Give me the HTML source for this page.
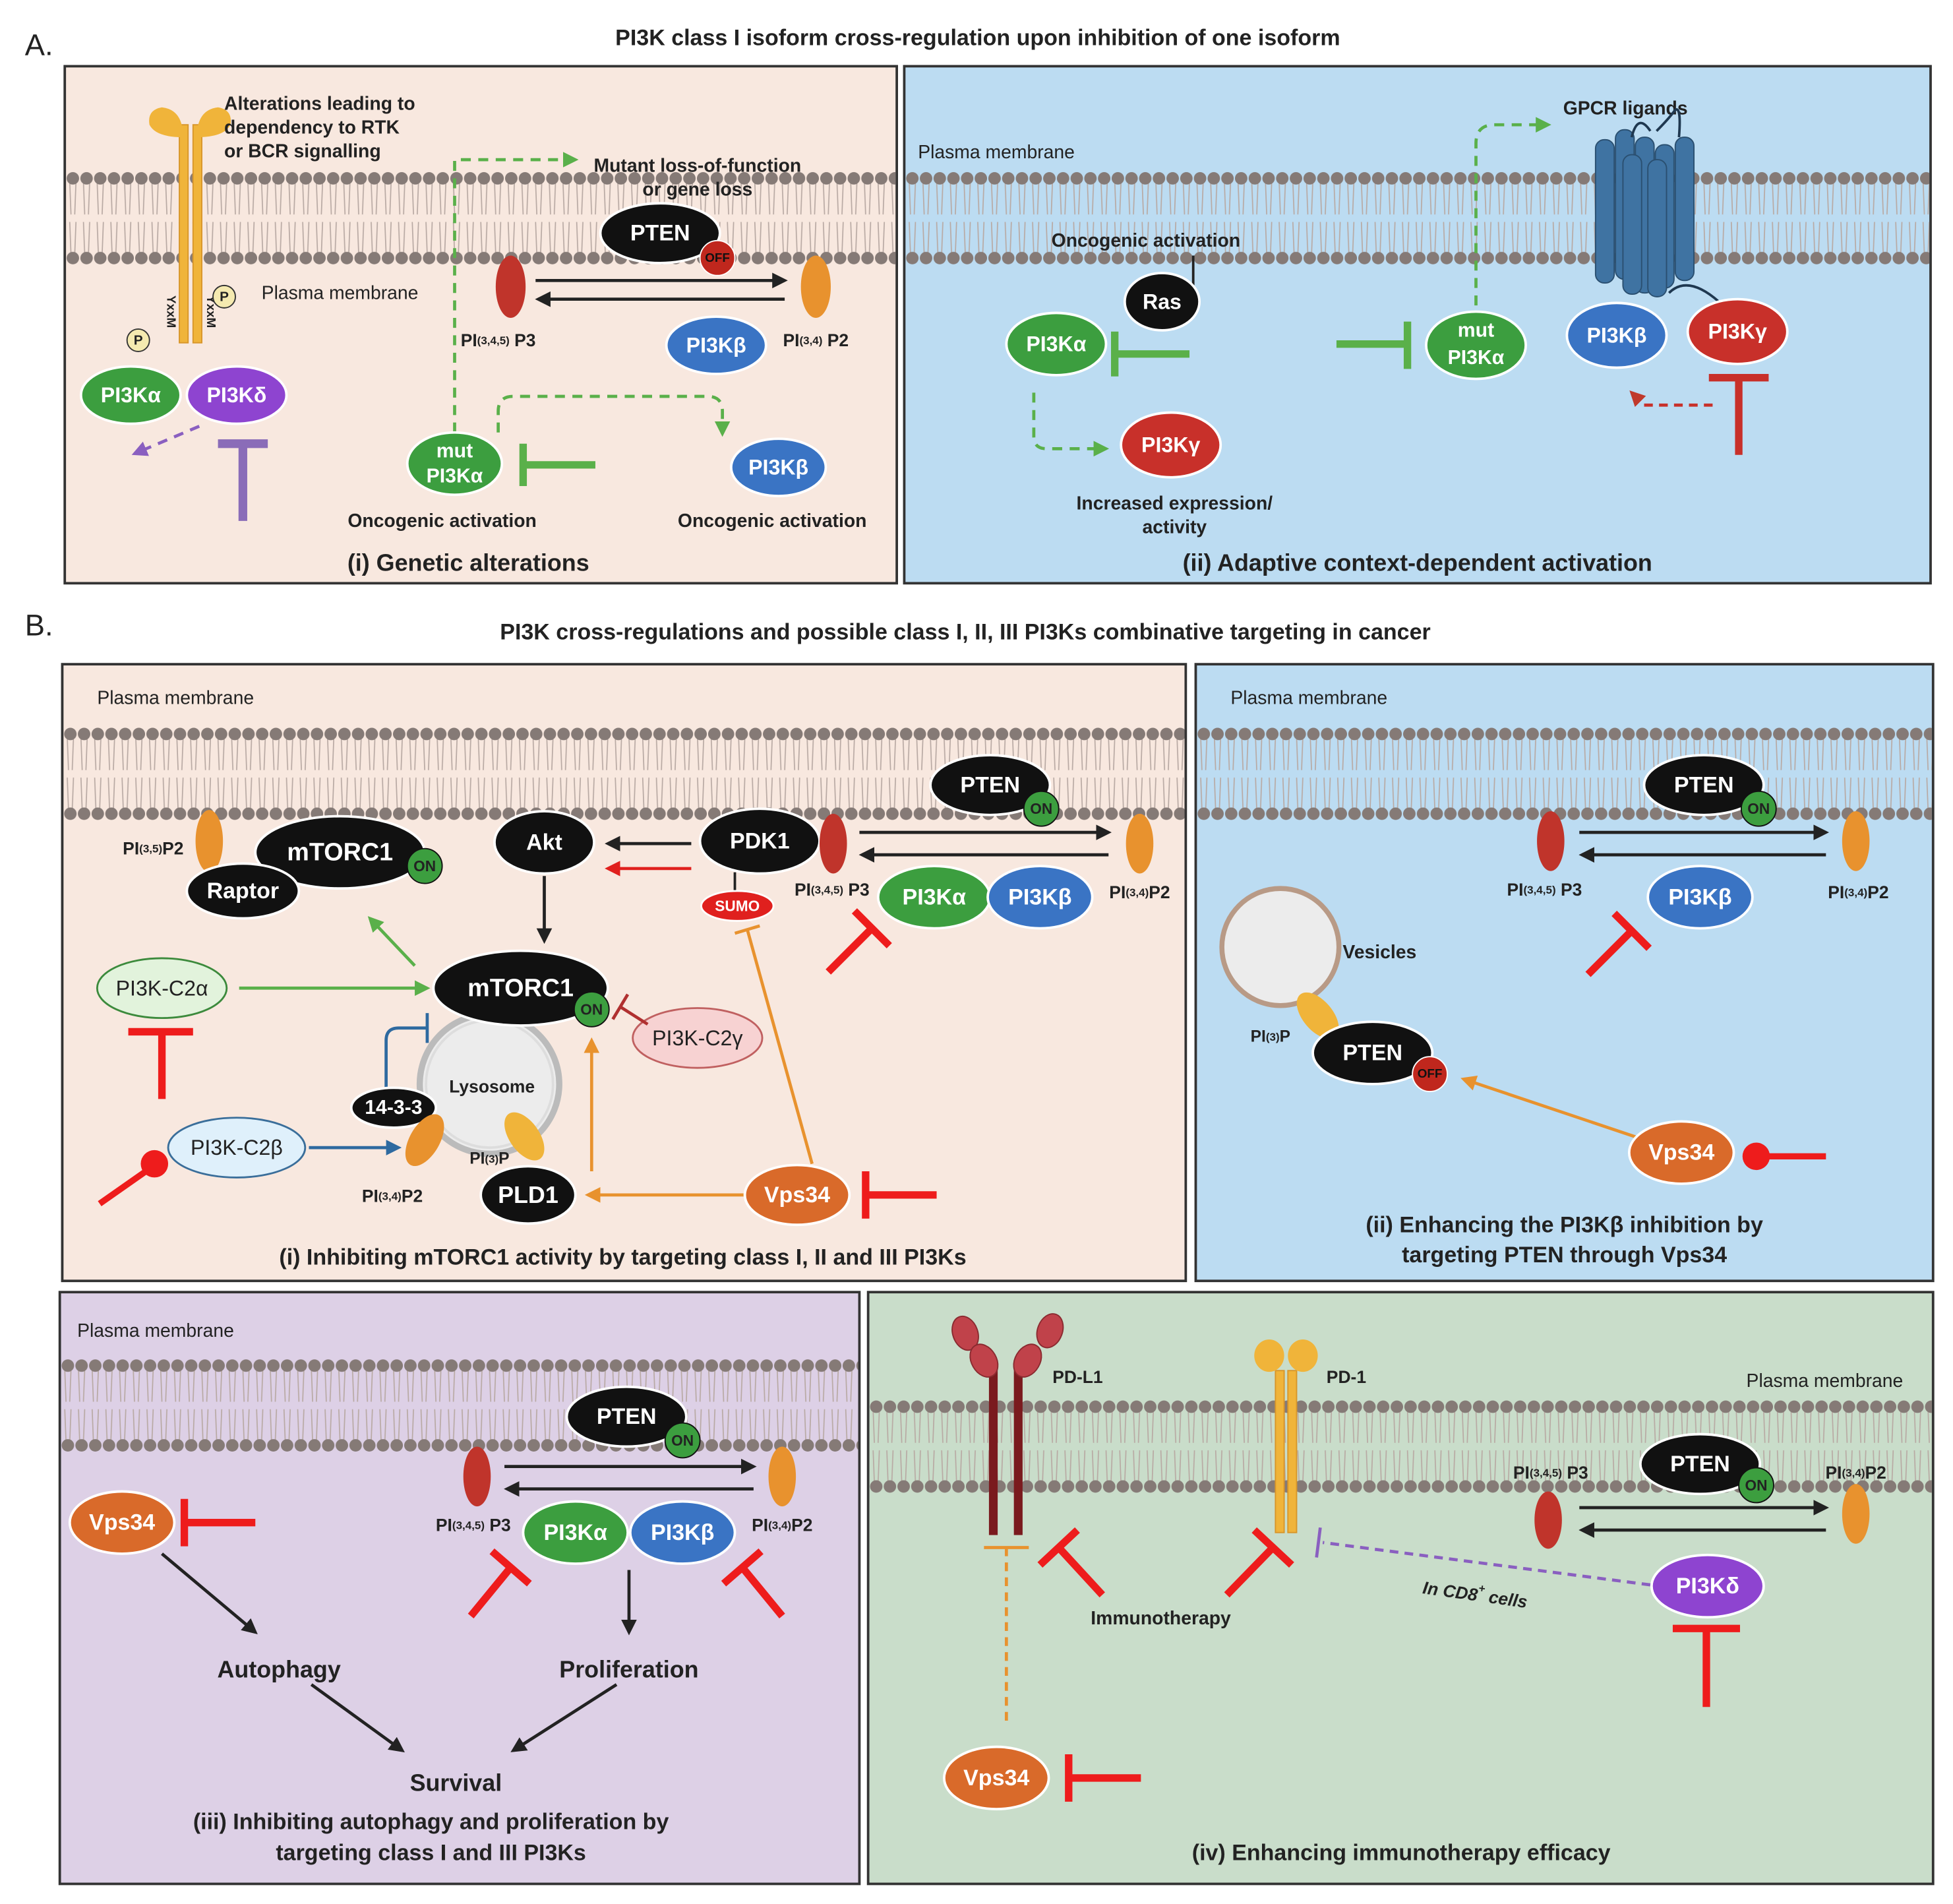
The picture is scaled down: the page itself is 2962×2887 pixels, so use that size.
<!DOCTYPE html>
<html><head><meta charset="utf-8"><style>
html,body{margin:0;padding:0;background:#fff}
svg{display:block}
text{font-family:"Liberation Sans",sans-serif;font-weight:bold}
.w{fill:#fff;text-anchor:middle;dominant-baseline:central}
.k{fill:#222;text-anchor:middle;dominant-baseline:central}
.lab{fill:#222;font-size:14px}
.t{fill:#222;font-size:19px;text-anchor:middle;font-weight:bold}
</style></head><body>
<svg width="2962" height="2887" viewBox="0 0 1568 1528" xmlns="http://www.w3.org/2000/svg">
<defs>
<pattern id="mem" x="0" y="0" width="11" height="74" patternUnits="userSpaceOnUse">
<path d="M3,8 L4,34 M8,8 L7,34 M3,40 L4,66 M8,40 L7,66" stroke="#b8a9a3" stroke-width="0.9" fill="none"/>
<circle cx="5.5" cy="5" r="5" fill="#857a76"/>
<circle cx="5.5" cy="69" r="5" fill="#857a76"/>
</pattern>
<marker id="ak" viewBox="0 0 10 10" refX="8" refY="5" markerWidth="5" markerHeight="5" orient="auto"><path d="M0,0L10,5L0,10z" fill="#222"/></marker>
<marker id="ar" viewBox="0 0 10 10" refX="8" refY="5" markerWidth="5" markerHeight="5" orient="auto"><path d="M0,0L10,5L0,10z" fill="#e0201e"/></marker>
<marker id="ag" viewBox="0 0 10 10" refX="8" refY="5" markerWidth="5" markerHeight="5" orient="auto"><path d="M0,0L10,5L0,10z" fill="#5ab04a"/></marker>
<marker id="ao" viewBox="0 0 10 10" refX="8" refY="5" markerWidth="5" markerHeight="5" orient="auto"><path d="M0,0L10,5L0,10z" fill="#e8922e"/></marker>
<marker id="ab" viewBox="0 0 10 10" refX="8" refY="5" markerWidth="5" markerHeight="5" orient="auto"><path d="M0,0L10,5L0,10z" fill="#2e6aa0"/></marker>
<marker id="ap" viewBox="0 0 10 10" refX="8" refY="5" markerWidth="5" markerHeight="5" orient="auto"><path d="M0,0L10,5L0,10z" fill="#8a5fc0"/></marker>
<marker id="adr" viewBox="0 0 10 10" refX="8" refY="5" markerWidth="5" markerHeight="5" orient="auto"><path d="M0,0L10,5L0,10z" fill="#c0392b"/></marker>
</defs>
<rect width="1568" height="1528" fill="#fff"/>

<text x="20" y="44" style="font-size:24px;font-weight:normal" fill="#222">A.</text>
<text x="785" y="36" class="t" style="font-size:18px">PI3K class I isoform cross-regulation upon inhibition of one isoform</text>
<text x="20" y="510" style="font-size:24px;font-weight:normal" fill="#222">B.</text>
<text x="775" y="513" class="t" style="font-size:18px">PI3K cross-regulations and possible class I, II, III PI3Ks combinative targeting in cancer</text>

<rect x="52" y="53" width="668" height="415" fill="#f8e8df" stroke="#333" stroke-width="2"/>
<rect x="726" y="53" width="824" height="415" fill="#bcdcf2" stroke="#333" stroke-width="2"/>
<rect x="50" y="533" width="902" height="495" fill="#f8e8df" stroke="#333" stroke-width="2"/>
<rect x="960" y="533" width="592" height="495" fill="#bcdcf2" stroke="#333" stroke-width="2"/>
<rect x="48" y="1037" width="642" height="475" fill="#ddd0e6" stroke="#333" stroke-width="2"/>
<rect x="697" y="1037" width="855" height="475" fill="#c9ddca" stroke="#333" stroke-width="2"/>

<g transform="translate(53,138)"><rect width="666" height="74" fill="url(#mem)"/></g>
<g transform="translate(727,138)"><rect width="822" height="74" fill="url(#mem)"/></g>
<g transform="translate(51,584)"><rect width="900" height="74" fill="url(#mem)"/></g>
<g transform="translate(961,584)"><rect width="590" height="74" fill="url(#mem)"/></g>
<g transform="translate(49,1091)"><rect width="640" height="74" fill="url(#mem)"/></g>
<g transform="translate(698,1124)"><rect width="853" height="74" fill="url(#mem)"/></g>

<!-- A(i) -->
<g>
<rect x="144" y="100" width="7" height="175" fill="#f0b43a" stroke="#d8962a" stroke-width="1"/>
<rect x="155" y="100" width="7" height="175" fill="#f0b43a" stroke="#d8962a" stroke-width="1"/>
<path d="M147,110 Q147,88 130,86 Q118,88 120,100 Q125,110 147,110z" fill="#f0b43a"/>
<path d="M158,110 Q158,88 175,86 Q187,88 185,100 Q180,110 158,110z" fill="#f0b43a"/>
<text x="137" y="250" transform="rotate(90 137 250)" class="k" style="font-size:10px">YxxM</text>
<text x="169" y="250" transform="rotate(90 169 250)" class="k" style="font-size:10px">YxxM</text>
<circle cx="180" cy="238" r="9" fill="#f5eab0" stroke="#333" stroke-width="1"/><text x="180" y="238" class="k" style="font-size:11px">P</text>
<circle cx="111" cy="273" r="9" fill="#f5eab0" stroke="#333" stroke-width="1"/><text x="111" y="273" class="k" style="font-size:11px">P</text>
<text x="180" y="88" class="lab" style="font-size:15px">Alterations leading to</text>
<text x="180" y="107" class="lab" style="font-size:15px">dependency to RTK</text>
<text x="180" y="126" class="lab" style="font-size:15px">or BCR signalling</text>
<text x="210" y="240" class="lab" style="font-weight:normal;font-size:15px">Plasma membrane</text>
<ellipse cx="105" cy="317" rx="40" ry="23" fill="#3c9e3f" stroke="#fff" stroke-width="2"/><text x="105" y="317" class="w" style="font-size:17px">PI3Kα</text>
<ellipse cx="190" cy="317" rx="40" ry="23" fill="#8e44d0" stroke="#fff" stroke-width="2"/><text x="190" y="317" class="w" style="font-size:17px">PI3Kδ</text>
<line x1="160" y1="342" x2="108" y2="364" stroke="#8a5fc0" stroke-width="2.5" stroke-dasharray="8,6" marker-end="url(#ap)"/>
<path d="M175,356 H215 M195,356 V418" stroke="#8a6cb8" stroke-width="7" fill="none"/>

<path d="M365,347 V128 H462" stroke="#5ab04a" stroke-width="2.5" stroke-dasharray="8,6" fill="none" marker-end="url(#ag)"/>
<text x="560" y="133" class="k" style="font-size:15px">Mutant loss-of-function</text>
<text x="560" y="152" class="k" style="font-size:15px">or gene loss</text>
<ellipse cx="530" cy="187" rx="48" ry="24" fill="#111" stroke="#fff" stroke-width="2"/><text x="530" y="187" class="w" style="font-size:18px">PTEN</text>
<circle cx="576" cy="207" r="14" fill="#c0271d" stroke="#fff" stroke-width="1"/><text x="576" y="207" class="w" style="font-size:10px;fill:#111">OFF</text>
<ellipse cx="410" cy="230" rx="12" ry="25" fill="#c0342b"/>
<ellipse cx="655" cy="230" rx="12" ry="25" fill="#e8922e"/>
<text x="400" y="273" class="k" style="font-size:14px">PI<tspan style="font-size:9px">(3,4,5)</tspan> P3</text>
<text x="655" y="273" class="k" style="font-size:14px">PI<tspan style="font-size:9px">(3,4)</tspan> P2</text>
<line x1="430" y1="225" x2="630" y2="225" stroke="#222" stroke-width="2.5" marker-end="url(#ak)"/>
<line x1="630" y1="240" x2="432" y2="240" stroke="#222" stroke-width="2.5" marker-end="url(#ak)"/>
<ellipse cx="575" cy="277" rx="40" ry="23" fill="#3a74c4" stroke="#fff" stroke-width="2"/><text x="575" y="277" class="w" style="font-size:17px">PI3Kβ</text>
<path d="M400,347 V330 Q400,318 412,318 H568 Q580,318 580,330 V348" stroke="#5ab04a" stroke-width="2.5" stroke-dasharray="8,6" fill="none" marker-end="url(#ag)"/>
<ellipse cx="365" cy="372" rx="38" ry="25" fill="#3c9e3f" stroke="#fff" stroke-width="2"/><text x="365" y="362" class="w" style="font-size:16px">mut</text><text x="365" y="382" class="w" style="font-size:16px">PI3Kα</text>
<path d="M478,373 H420 M420,356 V390" stroke="#5ab04a" stroke-width="6" fill="none"/>
<ellipse cx="625" cy="375" rx="38" ry="23" fill="#3a74c4" stroke="#fff" stroke-width="2"/><text x="625" y="375" class="w" style="font-size:17px">PI3Kβ</text>
<text x="355" y="418" class="k" style="font-size:15px">Oncogenic activation</text>
<text x="620" y="418" class="k" style="font-size:15px">Oncogenic activation</text>
<text x="376" y="458" class="t">(i) Genetic alterations</text>
</g>

<!-- A(ii) -->
<g>
<text x="737" y="127" class="lab" style="font-weight:normal;font-size:15px">Plasma membrane</text>
<text x="1305" y="87" class="k" style="font-size:15px">GPCR ligands</text>
<path d="M1185,245 V115 Q1185,100 1200,100 H1243" stroke="#5ab04a" stroke-width="2.5" stroke-dasharray="8,6" fill="none" marker-end="url(#ag)"/>
<g fill="#3f73a2" stroke="#2a4f70" stroke-width="1">
<rect x="1281" y="112" width="15" height="115" rx="7"/>
<rect x="1297" y="104" width="15" height="120" rx="7"/>
<rect x="1313" y="110" width="15" height="125" rx="7"/>
<rect x="1329" y="116" width="15" height="115" rx="7"/>
<rect x="1345" y="110" width="15" height="115" rx="7"/>
<rect x="1303" y="124" width="15" height="112" rx="7"/>
<rect x="1323" y="128" width="15" height="110" rx="7"/>
</g>
<path d="M1310,110 Q1315,90 1325,105 M1330,105 Q1340,95 1345,88 Q1350,85 1348,110 M1340,235 Q1355,220 1380,242" stroke="#1f3850" stroke-width="2" fill="none"/>
<text x="920" y="193" class="k" style="font-size:15px">Oncogenic activation</text>
<line x1="958" y1="205" x2="958" y2="232" stroke="#222" stroke-width="2"/>
<ellipse cx="933" cy="242" rx="30" ry="23" fill="#111" stroke="#fff" stroke-width="2"/><text x="933" y="242" class="w" style="font-size:17px">Ras</text>
<ellipse cx="848" cy="276" rx="40" ry="25" fill="#3c9e3f" stroke="#fff" stroke-width="2"/><text x="848" y="276" class="w" style="font-size:17px">PI3Kα</text>
<path d="M955,284 H895 M895,266 V302" stroke="#5ab04a" stroke-width="6" fill="none"/>
<path d="M1073,276 H1130 M1130,258 V296" stroke="#5ab04a" stroke-width="6" fill="none"/>
<ellipse cx="1185" cy="277" rx="40" ry="27" fill="#3c9e3f" stroke="#fff" stroke-width="2"/><text x="1185" y="265" class="w" style="font-size:16px">mut</text><text x="1185" y="287" class="w" style="font-size:16px">PI3Kα</text>
<ellipse cx="1298" cy="269" rx="40" ry="26" fill="#3a74c4" stroke="#fff" stroke-width="2"/><text x="1298" y="269" class="w" style="font-size:17px">PI3Kβ</text>
<ellipse cx="1395" cy="266" rx="40" ry="26" fill="#c8302a" stroke="#fff" stroke-width="2"/><text x="1395" y="266" class="w" style="font-size:17px">PI3Kγ</text>
<path d="M1372,303 H1420 M1396,303 V365" stroke="#c8302a" stroke-width="6" fill="none"/>
<path d="M1375,325 H1320 L1310,315" stroke="#c8302a" stroke-width="2.5" stroke-dasharray="7,5" fill="none" marker-end="url(#adr)"/>
<path d="M830,315 V350 Q830,360 840,360 H888" stroke="#5ab04a" stroke-width="2.5" stroke-dasharray="8,6" fill="none" marker-end="url(#ag)"/>
<ellipse cx="940" cy="357" rx="40" ry="26" fill="#c8302a" stroke="#fff" stroke-width="2"/><text x="940" y="357" class="w" style="font-size:17px">PI3Kγ</text>
<text x="943" y="404" class="k" style="font-size:15px">Increased expression/</text>
<text x="943" y="423" class="k" style="font-size:15px">activity</text>
<text x="1138" y="458" class="t">(ii) Adaptive context-dependent activation</text>
</g>

<!-- B(i) -->
<g>
<text x="78" y="565" class="lab" style="font-weight:normal;font-size:15px">Plasma membrane</text>
<ellipse cx="168" cy="675" rx="11" ry="25" fill="#e8922e"/>
<text x="123" y="681" class="k" style="font-size:14px">PI<tspan style="font-size:9px">(3,5)</tspan>P2</text>
<ellipse cx="273" cy="684" rx="68" ry="29" fill="#111" stroke="#fff" stroke-width="2"/><text x="273" y="684" class="w" style="font-size:20px">mTORC1</text>
<circle cx="341" cy="695" r="14" fill="#3c9e3f" stroke="#111" stroke-width="1"/><text x="341" y="695" class="k" style="font-size:12px">ON</text>
<ellipse cx="195" cy="715" rx="45" ry="22" fill="#111" stroke="#fff" stroke-width="2"/><text x="195" y="715" class="w" style="font-size:18px">Raptor</text>
<ellipse cx="437" cy="676" rx="40" ry="25" fill="#111" stroke="#fff" stroke-width="2"/><text x="437" y="676" class="w" style="font-size:18px">Akt</text>
<line x1="555" y1="677" x2="488" y2="677" stroke="#222" stroke-width="2.5" marker-end="url(#ak)"/>
<line x1="555" y1="697" x2="488" y2="697" stroke="#e0201e" stroke-width="2.5" marker-end="url(#ar)"/>
<ellipse cx="610" cy="675" rx="48" ry="26" fill="#111" stroke="#fff" stroke-width="2"/><text x="610" y="675" class="w" style="font-size:18px">PDK1</text>
<ellipse cx="669" cy="677" rx="11" ry="24" fill="#c0342b"/>
<text x="668" y="714" class="k" style="font-size:14px">PI<tspan style="font-size:9px">(3,4,5)</tspan> P3</text>
<line x1="590" y1="700" x2="590" y2="716" stroke="#222" stroke-width="2"/>
<ellipse cx="592" cy="727" rx="29" ry="12" fill="#e0201e" stroke="#fff" stroke-width="1.5"/><text x="592" y="727" class="w" style="font-size:12px">SUMO</text>
<ellipse cx="795" cy="630" rx="48" ry="24" fill="#111" stroke="#fff" stroke-width="2"/><text x="795" y="630" class="w" style="font-size:18px">PTEN</text>
<circle cx="836" cy="649" r="14" fill="#3c9e3f" stroke="#111" stroke-width="1"/><text x="836" y="649" class="k" style="font-size:12px">ON</text>
<line x1="690" y1="668" x2="890" y2="668" stroke="#222" stroke-width="2.5" marker-end="url(#ak)"/>
<line x1="890" y1="686" x2="692" y2="686" stroke="#222" stroke-width="2.5" marker-end="url(#ak)"/>
<ellipse cx="915" cy="677" rx="11" ry="24" fill="#e8922e"/>
<text x="915" y="716" class="k" style="font-size:14px">PI<tspan style="font-size:9px">(3,4)</tspan>P2</text>
<ellipse cx="750" cy="720" rx="45" ry="25" fill="#3c9e3f" stroke="#fff" stroke-width="2"/><text x="750" y="720" class="w" style="font-size:18px">PI3Kα</text>
<ellipse cx="835" cy="720" rx="42" ry="25" fill="#3a74c4" stroke="#fff" stroke-width="2"/><text x="835" y="720" class="w" style="font-size:18px">PI3Kβ</text>
<path d="M665,780 L700,745 M686,731 L714,759" stroke="#ee1c1c" stroke-width="6" fill="none"/>
<line x1="333" y1="775" x2="297" y2="737" stroke="#5ab04a" stroke-width="2.5" marker-end="url(#ag)"/>
<line x1="437" y1="703" x2="437" y2="755" stroke="#222" stroke-width="2.5" marker-end="url(#ak)"/>
<circle cx="393" cy="870" r="56" fill="#ececec" stroke="#bbb" stroke-width="5"/>
<circle cx="393" cy="870" r="51" fill="none" stroke="#ddd" stroke-width="2"/>
<text x="395" y="872" class="k" style="font-size:14px">Lysosome</text>
<ellipse cx="418" cy="793" rx="70" ry="30" fill="#111" stroke="#fff" stroke-width="2"/><text x="418" y="793" class="w" style="font-size:20px">mTORC1</text>
<circle cx="475" cy="810" r="14" fill="#3c9e3f" stroke="#111" stroke-width="1"/><text x="475" y="810" class="k" style="font-size:12px">ON</text>
<ellipse cx="560" cy="833" rx="52" ry="24" fill="#f7d2d2" stroke="#c06060" stroke-width="1.5"/><text x="560" y="833" class="k" style="font-size:17px;font-weight:normal">PI3K-C2γ</text>
<path d="M520,822 L498,808 M492,818 L504,798" stroke="#b03030" stroke-width="2.5" fill="none"/>
<ellipse cx="130" cy="793" rx="52" ry="24" fill="#e2f3dc" stroke="#3c8a3c" stroke-width="1.5"/><text x="130" y="793" class="k" style="font-size:17px;font-weight:normal">PI3K-C2α</text>
<line x1="192" y1="793" x2="343" y2="793" stroke="#5ab04a" stroke-width="2.5" marker-end="url(#ag)"/>
<path d="M103,828 H155 M130,828 V882" stroke="#ee1c1c" stroke-width="6" fill="none"/>
<path d="M310,876 V835 Q310,825 320,825 H343 M343,813 V837" stroke="#2e6aa0" stroke-width="2.5" fill="none"/>
<ellipse cx="316" cy="889" rx="34" ry="16" fill="#111" stroke="#fff" stroke-width="2"/><text x="316" y="889" class="w" style="font-size:16px">14-3-3</text>
<ellipse cx="190" cy="921" rx="55" ry="24" fill="#dff0fb" stroke="#3a6e9a" stroke-width="1.5"/><text x="190" y="921" class="k" style="font-size:17px;font-weight:normal">PI3K-C2β</text>
<line x1="248" y1="921" x2="320" y2="921" stroke="#2e6aa0" stroke-width="2.5" marker-end="url(#ab)"/>
<line x1="80" y1="966" x2="120" y2="938" stroke="#ee1c1c" stroke-width="5"/>
<circle cx="124" cy="934" r="11" fill="#ee1c1c"/>
<ellipse cx="341" cy="915" rx="12" ry="23" fill="#e8922e" transform="rotate(30 341 915)"/>
<text x="315" y="960" class="k" style="font-size:14px">PI<tspan style="font-size:9px">(3,4)</tspan>P2</text>
<ellipse cx="421" cy="912" rx="12" ry="22" fill="#f0b43a" transform="rotate(-35 421 912)"/>
<text x="393" y="930" class="k" style="font-size:13px">PI<tspan style="font-size:9px">(3)</tspan>P</text>
<ellipse cx="424" cy="959" rx="38" ry="23" fill="#111" stroke="#fff" stroke-width="2"/><text x="424" y="959" class="w" style="font-size:19px">PLD1</text>
<line x1="475" y1="940" x2="475" y2="835" stroke="#e8922e" stroke-width="2.5" marker-end="url(#ao)"/>
<line x1="597" y1="959" x2="472" y2="959" stroke="#e8922e" stroke-width="2.5" marker-end="url(#ao)"/>
<ellipse cx="640" cy="959" rx="42" ry="24" fill="#d96a2a" stroke="#fff" stroke-width="2"/><text x="640" y="959" class="w" style="font-size:18px">Vps34</text>
<path d="M695,959 H752 M695,940 V978" stroke="#ee1c1c" stroke-width="6" fill="none"/>
<path d="M652,934 L600,746 M590,749 L610,743" stroke="#e8922e" stroke-width="2.5" fill="none"/>
<text x="500" y="1015" class="t" style="font-size:18px">(i) Inhibiting mTORC1 activity by targeting class I, II and III PI3Ks</text>
</g>

<!-- B(ii) -->
<g>
<text x="988" y="565" class="lab" style="font-weight:normal;font-size:15px">Plasma membrane</text>
<ellipse cx="1368" cy="630" rx="48" ry="24" fill="#111" stroke="#fff" stroke-width="2"/><text x="1368" y="630" class="w" style="font-size:18px">PTEN</text>
<circle cx="1412" cy="649" r="14" fill="#3c9e3f" stroke="#111" stroke-width="1"/><text x="1412" y="649" class="k" style="font-size:12px">ON</text>
<ellipse cx="1245" cy="675" rx="11" ry="24" fill="#c0342b"/>
<ellipse cx="1490" cy="675" rx="11" ry="24" fill="#e8922e"/>
<text x="1240" y="714" class="k" style="font-size:14px">PI<tspan style="font-size:9px">(3,4,5)</tspan> P3</text>
<text x="1492" y="716" class="k" style="font-size:14px">PI<tspan style="font-size:9px">(3,4)</tspan>P2</text>
<line x1="1268" y1="668" x2="1466" y2="668" stroke="#222" stroke-width="2.5" marker-end="url(#ak)"/>
<line x1="1466" y1="686" x2="1270" y2="686" stroke="#222" stroke-width="2.5" marker-end="url(#ak)"/>
<ellipse cx="1365" cy="720" rx="42" ry="25" fill="#3a74c4" stroke="#fff" stroke-width="2"/><text x="1365" y="720" class="w" style="font-size:18px">PI3Kβ</text>
<path d="M1275,782 L1310,747 M1296,733 L1324,761" stroke="#ee1c1c" stroke-width="6" fill="none"/>
<circle cx="1028" cy="760" r="47" fill="#ececec" stroke="#b89a86" stroke-width="4"/>
<text x="1078" y="769" class="lab" style="font-size:15px">Vesicles</text>
<ellipse cx="1058" cy="815" rx="12" ry="22" fill="#f0b43a" transform="rotate(-40 1058 815)"/>
<text x="1020" y="832" class="k" style="font-size:13px">PI<tspan style="font-size:9px">(3)</tspan>P</text>
<ellipse cx="1102" cy="845" rx="48" ry="25" fill="#111" stroke="#fff" stroke-width="2"/><text x="1102" y="845" class="w" style="font-size:18px">PTEN</text>
<circle cx="1148" cy="862" r="14" fill="#c0271d" stroke="#fff" stroke-width="1"/><text x="1148" y="862" class="w" style="font-size:10px;fill:#111">OFF</text>
<line x1="1318" y1="914" x2="1175" y2="866" stroke="#e8922e" stroke-width="2.5" marker-end="url(#ao)"/>
<ellipse cx="1350" cy="925" rx="42" ry="25" fill="#d96a2a" stroke="#fff" stroke-width="2"/><text x="1350" y="925" class="w" style="font-size:18px">Vps34</text>
<circle cx="1410" cy="928" r="11" fill="#ee1c1c"/>
<line x1="1410" y1="928" x2="1466" y2="928" stroke="#ee1c1c" stroke-width="5"/>
<text x="1256" y="989" class="t" style="font-size:18px">(ii) Enhancing the PI3Kβ inhibition by</text>
<text x="1256" y="1013" class="t" style="font-size:18px">targeting PTEN through Vps34</text>
</g>

<!-- B(iii) -->
<g>
<text x="62" y="1073" class="lab" style="font-weight:normal;font-size:15px">Plasma membrane</text>
<ellipse cx="503" cy="1137" rx="48" ry="24" fill="#111" stroke="#fff" stroke-width="2"/><text x="503" y="1137" class="w" style="font-size:18px">PTEN</text>
<circle cx="548" cy="1156" r="14" fill="#3c9e3f" stroke="#111" stroke-width="1"/><text x="548" y="1156" class="k" style="font-size:12px">ON</text>
<ellipse cx="383" cy="1185" rx="11" ry="24" fill="#c0342b"/>
<ellipse cx="628" cy="1185" rx="11" ry="24" fill="#e8922e"/>
<text x="380" y="1224" class="k" style="font-size:14px">PI<tspan style="font-size:9px">(3,4,5)</tspan> P3</text>
<text x="628" y="1224" class="k" style="font-size:14px">PI<tspan style="font-size:9px">(3,4)</tspan>P2</text>
<line x1="405" y1="1177" x2="605" y2="1177" stroke="#222" stroke-width="2.5" marker-end="url(#ak)"/>
<line x1="605" y1="1195" x2="407" y2="1195" stroke="#222" stroke-width="2.5" marker-end="url(#ak)"/>
<ellipse cx="462" cy="1230" rx="42" ry="25" fill="#3c9e3f" stroke="#fff" stroke-width="2"/><text x="462" y="1230" class="w" style="font-size:18px">PI3Kα</text>
<ellipse cx="548" cy="1230" rx="42" ry="25" fill="#3a74c4" stroke="#fff" stroke-width="2"/><text x="548" y="1230" class="w" style="font-size:18px">PI3Kβ</text>
<path d="M378,1297 L410,1258 M395,1245 L425,1271" stroke="#ee1c1c" stroke-width="6" fill="none"/>
<path d="M628,1297 L596,1258 M581,1271 L611,1245" stroke="#ee1c1c" stroke-width="6" fill="none"/>
<line x1="505" y1="1260" x2="505" y2="1310" stroke="#222" stroke-width="2.5" marker-end="url(#ak)"/>
<ellipse cx="98" cy="1222" rx="42" ry="25" fill="#d96a2a" stroke="#fff" stroke-width="2"/><text x="98" y="1222" class="w" style="font-size:18px">Vps34</text>
<path d="M148,1222 H205 M148,1203 V1241" stroke="#ee1c1c" stroke-width="6" fill="none"/>
<line x1="130" y1="1247" x2="205" y2="1310" stroke="#222" stroke-width="2.5" marker-end="url(#ak)"/>
<text x="224" y="1340" class="k" style="font-size:19px">Autophagy</text>
<text x="505" y="1340" class="k" style="font-size:19px">Proliferation</text>
<line x1="250" y1="1352" x2="323" y2="1405" stroke="#222" stroke-width="2.5" marker-end="url(#ak)"/>
<line x1="495" y1="1352" x2="412" y2="1405" stroke="#222" stroke-width="2.5" marker-end="url(#ak)"/>
<text x="366" y="1431" class="k" style="font-size:19px">Survival</text>
<text x="346" y="1468" class="t" style="font-size:18px">(iii) Inhibiting autophagy and proliferation by</text>
<text x="346" y="1493" class="t" style="font-size:18px">targeting class I and III PI3Ks</text>
</g>

<!-- B(iv) -->
<g>
<rect x="794" y="1092" width="7" height="140" fill="#7a1a1e"/>
<rect x="814" y="1092" width="7" height="140" fill="#7a1a1e"/>
<g fill="#c0424a" stroke="#8a2a30" stroke-width="1">
<ellipse cx="775" cy="1070" rx="10" ry="14" transform="rotate(-20 775 1070)"/>
<ellipse cx="790" cy="1092" rx="10" ry="14" transform="rotate(-30 790 1092)"/>
<ellipse cx="825" cy="1092" rx="10" ry="14" transform="rotate(30 825 1092)"/>
<ellipse cx="843" cy="1068" rx="10" ry="14" transform="rotate(20 843 1068)"/>
</g>
<text x="845" y="1110" class="lab" style="font-size:14px">PD-L1</text>
<rect x="1024" y="1100" width="7" height="130" fill="#f0b43a" stroke="#d8962a"/>
<rect x="1034" y="1100" width="7" height="130" fill="#f0b43a" stroke="#d8962a"/>
<ellipse cx="1019" cy="1088" rx="12" ry="13" fill="#f0b43a"/>
<ellipse cx="1046" cy="1088" rx="12" ry="13" fill="#f0b43a"/>
<text x="1065" y="1110" class="lab" style="font-size:14px">PD-1</text>
<text x="1465" y="1113" class="lab" style="font-weight:normal;font-size:15px;text-anchor:middle">Plasma membrane</text>
<text x="1245" y="1182" class="k" style="font-size:14px">PI<tspan style="font-size:9px">(3,4,5)</tspan> P3</text>
<text x="1490" y="1182" class="k" style="font-size:14px">PI<tspan style="font-size:9px">(3,4)</tspan>P2</text>
<ellipse cx="1243" cy="1220" rx="11" ry="23" fill="#c0342b"/>
<ellipse cx="1490" cy="1215" rx="11" ry="24" fill="#e8922e"/>
<ellipse cx="1365" cy="1175" rx="48" ry="24" fill="#111" stroke="#fff" stroke-width="2"/><text x="1365" y="1175" class="w" style="font-size:18px">PTEN</text>
<circle cx="1410" cy="1192" r="14" fill="#3c9e3f" stroke="#111" stroke-width="1"/><text x="1410" y="1192" class="k" style="font-size:12px">ON</text>
<line x1="1268" y1="1210" x2="1466" y2="1210" stroke="#222" stroke-width="2.5" marker-end="url(#ak)"/>
<line x1="1466" y1="1228" x2="1270" y2="1228" stroke="#222" stroke-width="2.5" marker-end="url(#ak)"/>
<path d="M808,1242 V1385" stroke="#e8922e" stroke-width="2.5" stroke-dasharray="7,5" fill="none"/>
<line x1="790" y1="1242" x2="826" y2="1242" stroke="#e8922e" stroke-width="2.5"/>
<path d="M885,1280 L850,1242 M835,1256 L865,1228" stroke="#ee1c1c" stroke-width="6" fill="none"/>
<path d="M985,1280 L1022,1242 M1007,1228 L1037,1256" stroke="#ee1c1c" stroke-width="6" fill="none"/>
<line x1="1325" y1="1272" x2="1062" y2="1238" stroke="#8a5fc0" stroke-width="2.5" stroke-dasharray="7,5"/>
<line x1="1060" y1="1226" x2="1057" y2="1250" stroke="#8a5fc0" stroke-width="2.5"/>
<text x="1185" y="1280" transform="rotate(8 1185 1275)" class="k" style="font-size:14px;font-style:italic">In CD8<tspan style="font-size:9px" dy="-6">+</tspan><tspan dy="6"> cells</tspan></text>
<ellipse cx="1371" cy="1273" rx="45" ry="25" fill="#8e44d0" stroke="#fff" stroke-width="2"/><text x="1371" y="1273" class="w" style="font-size:18px">PI3Kδ</text>
<path d="M1343,1307 H1397 M1370,1307 V1370" stroke="#ee1c1c" stroke-width="6" fill="none"/>
<text x="932" y="1299" class="k" style="font-size:15px">Immunotherapy</text>
<ellipse cx="800" cy="1427" rx="42" ry="25" fill="#d96a2a" stroke="#fff" stroke-width="2"/><text x="800" y="1427" class="w" style="font-size:18px">Vps34</text>
<path d="M858,1427 H916 M858,1408 V1446" stroke="#ee1c1c" stroke-width="6" fill="none"/>
<text x="1125" y="1493" class="t" style="font-size:18px">(iv) Enhancing immunotherapy efficacy</text>
</g>
</svg>
</body></html>
